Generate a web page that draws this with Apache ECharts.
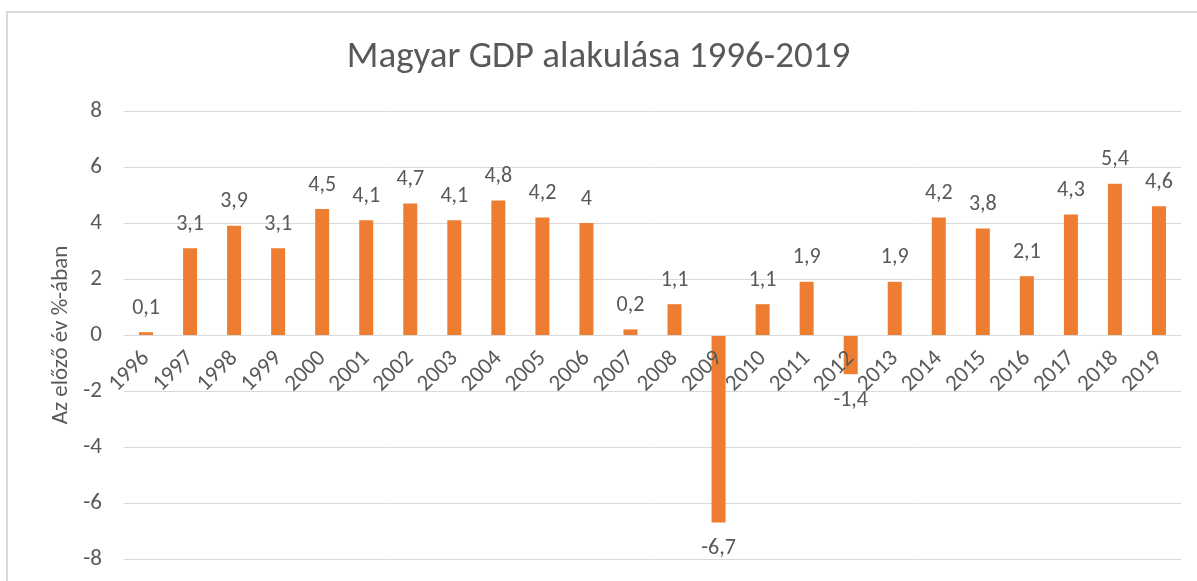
<!DOCTYPE html>
<html>
<head>
<meta charset="utf-8">
<script src="https://cdn.jsdelivr.net/npm/echarts@6/dist/echarts.min.js"></script>
<style>
  html, body { margin: 0; padding: 0; background: #fff; }
  #chart { width: 1197px; height: 581px; }
</style>
</head>
<body>
<div id="chart"></div>
<script>
const years = ['1996', '1997', '1998', '1999', '2000', '2001', '2002', '2003', '2004', '2005', '2006', '2007',
  '2008', '2009', '2010', '2011', '2012', '2013', '2014', '2015', '2016', '2017', '2018', '2019']
const growth = [0.1, 3.1, 3.9, 3.1, 4.5, 4.1, 4.7, 4.1, 4.8, 4.2, 4, 0.2,
  1.1, -6.7, 1.1, 1.9, -1.4, 1.9, 4.2, 3.8, 2.1, 4.3, 5.4, 4.6]
const yTicks = [-8, -6, -4, -2, 0, 2, 4, 6, 8]

const font = "Carlito, 'Open Sans', sans-serif"
const textColor = '#595959'
const gridColor = '#d9d9d9'

const gridTop = 111
const gridBottom = 22
const plotHeight = 581 - gridTop - gridBottom
const yMin = yTicks[0]
const yMax = yTicks[yTicks.length - 1]
// move the category axis (line + labels) up to the zero line
const zeroOffset = -plotHeight * (0 - yMin) / (yMax - yMin)

const chart = echarts.init(document.getElementById('chart'))

// negative bars get their label below the bar
const barData = growth.map(v => ({
  value: v,
  label: v < 0 ? { position: 'bottom', distance: 15 } : {}
}))

chart.setOption({
  animation: false,
  textStyle: { fontFamily: font },
  graphic: [
    {
      type: 'rect',
      shape: { x: 7, y: 12, width: 1300, height: 700 },
      style: { fill: 'none', stroke: gridColor, lineWidth: 2 },
      silent: true
    }
  ],
  title: {
    text: 'Magyar GDP alakulása 1996-2019',
    left: 'center',
    top: 34,
    textStyle: {
      fontFamily: font,
      fontSize: 37,
      fontWeight: 'normal',
      color: textColor
    }
  },
  grid: {
    left: 124,
    right: 16,
    top: gridTop,
    bottom: gridBottom,
    outerBoundsMode: 'none'
  },
  xAxis: {
    type: 'category',
    data: years,
    offset: zeroOffset,
    z: 10,
    axisLine: { onZero: false, lineStyle: { color: gridColor, width: 1 } },
    axisTick: { show: false },
    axisLabel: {
      interval: 0,
      rotate: 45,
      margin: 20,
      color: textColor,
      fontSize: 23,
      fontFamily: font
    }
  },
  yAxis: {
    type: 'value',
    min: yMin,
    max: yMax,
    interval: 2,
    name: 'Az előző év %-ában',
    nameLocation: 'middle',
    nameGap: 48,
    nameTextStyle: { color: textColor, fontSize: 23, fontFamily: font },
    axisLine: { show: false },
    axisTick: { show: false },
    axisLabel: { color: textColor, fontSize: 23, margin: 22, fontFamily: font },
    splitLine: { lineStyle: { color: gridColor, width: 1 } }
  },
  series: [
    {
      type: 'bar',
      data: barData,
      barWidth: 14,
      itemStyle: { color: '#ED7D31' },
      label: {
        show: true,
        position: 'top',
        distance: 13,
        color: textColor,
        fontSize: 22,
        fontFamily: font,
        formatter: p => String(p.value).replace('.', ',')
      }
    }
  ]
})
</script>
</body>
</html>
